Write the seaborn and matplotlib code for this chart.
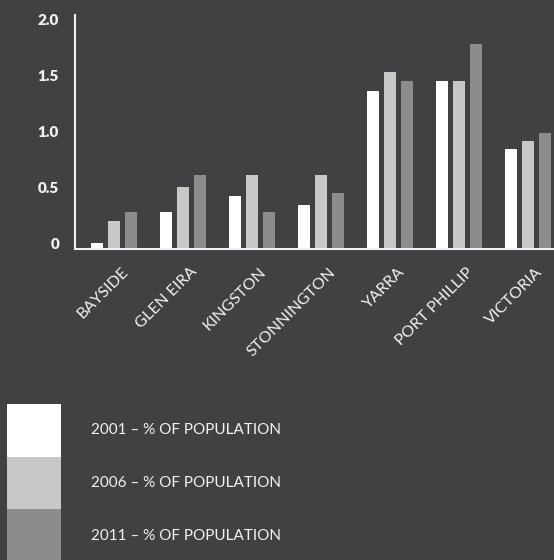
import matplotlib
matplotlib.use("Agg")
import matplotlib.pyplot as plt
import matplotlib.transforms as mtransforms
import seaborn as sns
import pandas as pd

# ---- data ----
regions = ["BAYSIDE", "GLEN EIRA", "KINGSTON", "STONNINGTON", "YARRA", "PORT PHILLIP", "VICTORIA"]
pct_2001 = [0.05, 0.33, 0.47, 0.39, 1.41, 1.50, 0.89]
pct_2006 = [0.25, 0.55, 0.66, 0.66, 1.58, 1.50, 0.96]
pct_2011 = [0.33, 0.66, 0.33, 0.50, 1.50, 1.83, 1.04]
series_labels = ["2001 – % OF POPULATION", "2006 – % OF POPULATION", "2011 – % OF POPULATION"]
y_ticks = [0, 0.5, 1.0, 1.5, 2.0]
y_tick_labels = ["0", "0.5", "1.0", "1.5", "2.0"]

BG = "#414143"
colors = ["#ffffff", "#c8c8c8", "#8c8c8c"]

rows = []
for lab, vals in zip(series_labels, [pct_2001, pct_2006, pct_2011]):
    for r, v in zip(regions, vals):
        rows.append({"region": r, "series": lab, "pct": v})
df = pd.DataFrame(rows)

sns.set_style("white")
plt.rcParams["font.family"] = ["Lato", "DejaVu Sans"]

W, H = 554, 560
fig = plt.figure(figsize=(W / 100, H / 100), dpi=100, facecolor=BG)
ax = fig.add_axes([75 / W, 1 - 249 / H, 1 - 75 / W + 0.01, (249 - 15) / H])
ax.set_facecolor(BG)

sns.barplot(data=df, x="region", y="pct", hue="series", order=regions,
            hue_order=series_labels, palette=colors, saturation=1,
            width=0.739, gap=0.294, linewidth=0, errorbar=None, ax=ax)

ax.set_xlim(-0.565, 6.45)
ax.set_ylim(0, 234 / 112)
ax.set_xlabel("")
ax.set_ylabel("")

for s in ["top", "right"]:
    ax.spines[s].set_visible(False)
for s in ["left", "bottom"]:
    ax.spines[s].set_color("#f2f2f2")
    ax.spines[s].set_linewidth(1.5)

ax.set_yticks(y_ticks)
ax.set_yticklabels(y_tick_labels)
ax.tick_params(axis="y", length=0, pad=11.5, labelsize=11, labelcolor="#f2f2f2")
yoff = mtransforms.ScaledTranslation(0, 0.055, fig.dpi_scale_trans)
for t in ax.get_yticklabels():
    t.set_fontweight("heavy")
    t.set_transform(t.get_transform() + yoff)

ax.set_xticks(range(len(regions)))
ax.set_xticklabels(regions, rotation=45, ha="right", va="center",
                   rotation_mode="anchor", fontsize=11.5, color="#f2f2f2")
ax.tick_params(axis="x", length=0, pad=15)
xoff = mtransforms.ScaledTranslation(0.12, 0, fig.dpi_scale_trans)
for t in ax.get_xticklabels():
    t.set_transform(t.get_transform() + xoff)

fs = 11
fs_px = fs * 100 / 72
sns.move_legend(ax, "upper left", bbox_to_anchor=(7 / W, 1 - 404 / H),
                bbox_transform=fig.transFigure, frameon=False, title=None,
                fontsize=fs, labelcolor="#f2f2f2", borderpad=0, borderaxespad=0,
                handlelength=54 / fs_px, handleheight=53 / fs_px * 53 / 38 * 53 / 52,
                handletextpad=30 / fs_px, labelspacing=0)

fig.savefig("out.png", dpi=100, facecolor=BG)
